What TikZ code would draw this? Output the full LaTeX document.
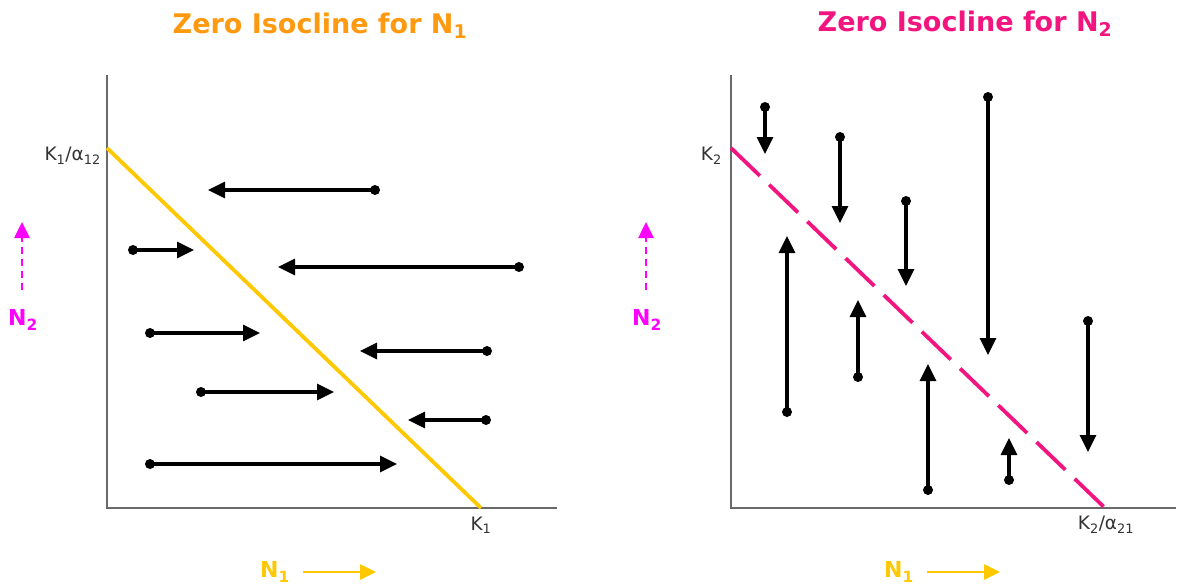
\documentclass[tikz,border=0pt]{standalone}
\usepackage{fontspec}
\setmainfont{DejaVu Sans}
\usetikzlibrary{arrows.meta}
\definecolor{titleorange}{HTML}{FF9A10}
\definecolor{isogold}{HTML}{FFC800}
\definecolor{isopink}{HTML}{F3157F}
\definecolor{axmag}{HTML}{FF00FF}
\definecolor{axgray}{HTML}{6A6A6A}
\definecolor{lblgray}{HTML}{333333}
\tikzset{
  axisline/.style={draw=axgray, line width=2.4pt},
  vec/.style={line width=3.2pt, -{Triangle[length=17pt,width=16pt]}},
  startdot/.style={circle, fill=black, inner sep=0pt, minimum size=10pt},
  titletext/.style={font=\fontsize{27}{32}\selectfont\bfseries, inner sep=0pt},
  smalllbl/.style={font=\fontsize{18.5}{22}\selectfont, text=lblgray, inner sep=0pt},
  dirlbl/.style={font=\fontsize{22}{26}\selectfont\bfseries, inner sep=0pt},
  dirarrow/.style={line width=2.6pt, -{Triangle[length=16pt,width=15pt]}},
}
\begin{document}
\begin{tikzpicture}[x=1pt,y=-1pt]
\path[use as bounding box] (0,0) rectangle (1182,584);

% ---------- titles
\node[titletext, text=titleorange] (t1) at (320,26) {Zero Isocline for N\textsubscript{1}};
\node[titletext, text=isopink] (t2) at (965,24) {Zero Isocline for N\textsubscript{2}};

% ---------- left axes
\coordinate (lo) at (107,508);
\coordinate (ltop) at (107,75);
\coordinate (lright) at (557,508);
\draw[axisline] (ltop) -- (lo) -- (lright);
\coordinate (li1) at (107,148);
\coordinate (li2) at (481,508);
\draw[isogold, line width=3.8pt] (li1) -- (li2);
\node[smalllbl, anchor=east] (lk1a) at (101,156) {K\textsubscript{1}/α\textsubscript{12}};
\node[smalllbl] (lk1) at (481,525) {K\textsubscript{1}};

% left direction labels
\node[dirlbl, text=axmag] (ln2) at (23,320) {N\textsubscript{2}};
\coordinate (ln2a) at (22,290);
\coordinate (ln2b) at (22,222);
\draw[axmag, dirarrow, dash pattern=on 7pt off 5pt] (ln2a) -- (ln2b);
\node[dirlbl, text=isogold] (ln1) at (275,572) {N\textsubscript{1}};
\coordinate (ln1a) at (303,572);
\coordinate (ln1b) at (376,572);
\draw[isogold, dirarrow] (ln1a) -- (ln1b);

% left vectors
\foreach \n/\xa/\ya/\xb/\yb in {a/375/190/208/190, b/133/250/194/250, c/519/267/278/267, d/150/333/260/333, e/487/351/360/351, f/201/392/334/392, g/486/420/408/420, h/150/464/397/464}{
  \coordinate (lv\n s) at (\xa,\ya);
  \coordinate (lv\n e) at (\xb,\yb);
  \draw[vec] (lv\n s) -- (lv\n e);
  \node[startdot] (lv\n d) at (lv\n s) {};
}

% ---------- right axes
\coordinate (ro) at (731,508);
\coordinate (rtop) at (731,75);
\coordinate (rright) at (1176,508);
\draw[axisline] (rtop) -- (ro) -- (rright);
\coordinate (ri1) at (731,148);
\coordinate (ri2) at (1105,508);
\draw[isopink, line width=3.8pt, dash pattern=on 40pt off 13pt] (ri1) -- (ri2);
\node[smalllbl, anchor=east] (rk2) at (722,156) {K\textsubscript{2}};
\node[smalllbl] (rk2a) at (1106,525) {K\textsubscript{2}/α\textsubscript{21}};

% right direction labels
\node[dirlbl, text=axmag] (rn2) at (647,320) {N\textsubscript{2}};
\coordinate (rn2a) at (646,290);
\coordinate (rn2b) at (646,222);
\draw[axmag, dirarrow, dash pattern=on 7pt off 5pt] (rn2a) -- (rn2b);
\node[dirlbl, text=isogold] (rn1) at (899,572) {N\textsubscript{1}};
\coordinate (rn1a) at (927,572);
\coordinate (rn1b) at (1000,572);
\draw[isogold, dirarrow] (rn1a) -- (rn1b);

% right vectors
\foreach \n/\xa/\ya/\xb/\yb in {a/765/107/765/154, b/840/137/840/223, c/906/201/906/286, d/988/97/988/355, e/787/412/787/236, f/858/377/858/300, g/928/490/928/364, h/1009/480/1009/438, i/1088/321/1088/452}{
  \coordinate (rv\n s) at (\xa,\ya);
  \coordinate (rv\n e) at (\xb,\yb);
  \draw[vec] (rv\n s) -- (rv\n e);
  \node[startdot] (rv\n d) at (rv\n s) {};
}
\end{tikzpicture}
\end{document}
